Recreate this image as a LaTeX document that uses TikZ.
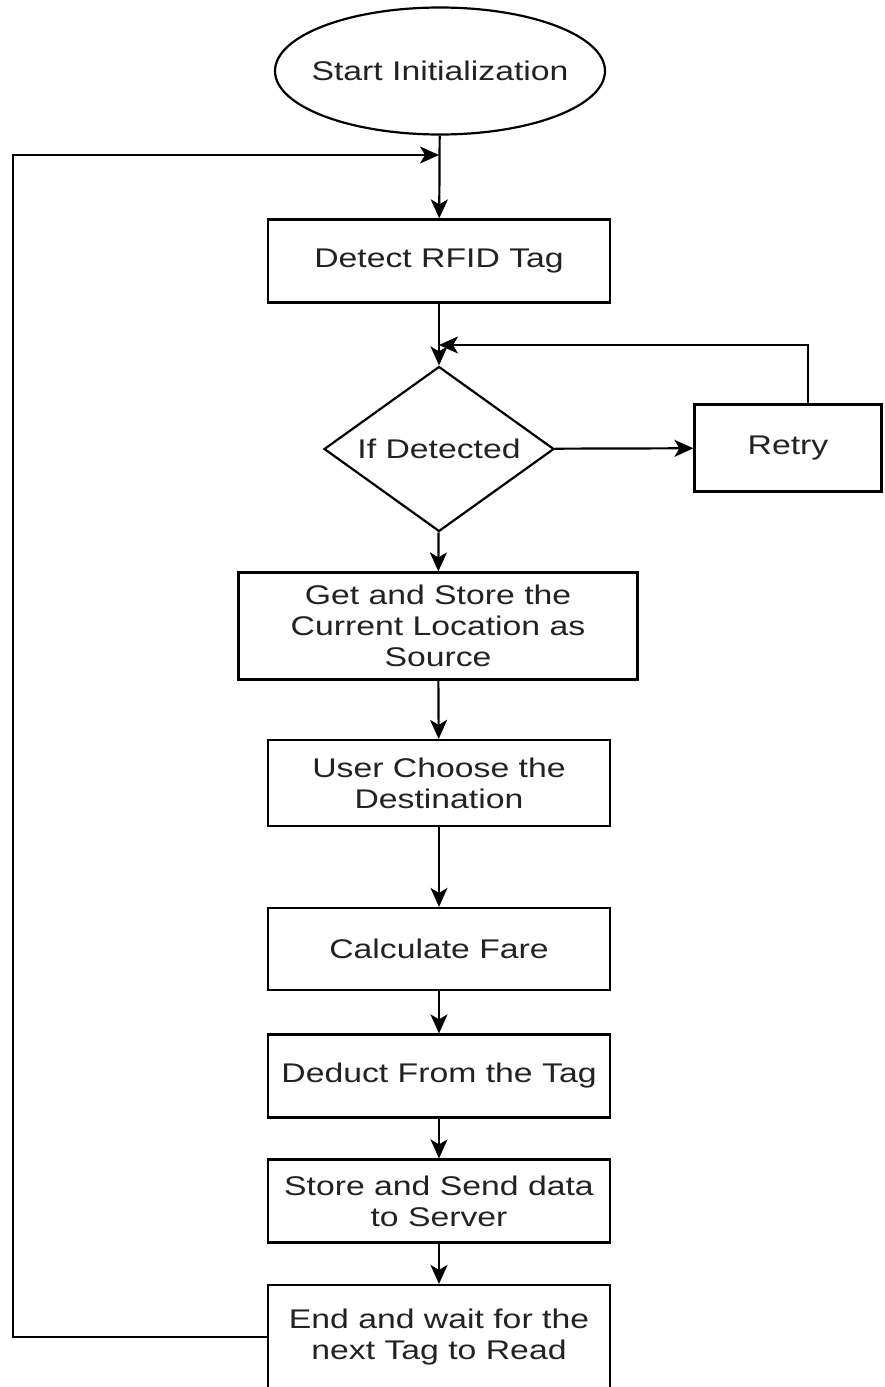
\documentclass[tikz,border=0pt]{standalone}
\usepackage{fontspec}
\setmainfont{Liberation Sans}[FakeStretch=1.25]
\usetikzlibrary{arrows.meta,shapes.geometric}
\definecolor{ink}{HTML}{222222}
\begin{document}
\begin{tikzpicture}[x=1pt,y=-1pt,
  line width=2.2pt,
  font=\fontsize{27}{31}\selectfont,
  every node/.style={text=ink},
  proc/.style={draw, rectangle, inner sep=0pt, align=center,
    minimum width=342pt, minimum height=83pt},
  flow/.style={draw, -{Stealth[length=19pt,width=17pt,inset=5pt]}}]
\useasboundingbox (0,0) rectangle (884,1387);
\clip (0,0) rectangle (884,1387);

% terminal and decision shapes
\node[draw, ellipse, inner sep=0pt, minimum width=330pt, minimum height=127pt,
  label={center:Start Initialization}] (start) at (440,71) {};
\node[proc] (detect) at (439,261) {Detect RFID Tag};
\node[draw, diamond, inner sep=0pt, minimum width=230pt, minimum height=165pt,
  label={center:If Detected}] (dec) at (439,449) {};
\node[proc, minimum width=187pt, minimum height=87pt] (retry) at (788,448) {Retry};

% processing steps
\node[proc, minimum width=399pt, minimum height=107pt] (src) at (438,626)
  {Get and Store the\\Current Location as\\Source};
\node[proc, minimum height=86pt] (dest) at (439,783) {User Choose the\\Destination};
\node[proc, minimum height=82pt] (fare) at (439,949) {Calculate Fare};
\node[proc] (deduct) at (439,1076) {Deduct From the Tag};
\node[proc] (send) at (439,1201) {Store and Send data\\to Server};
\node[proc, minimum height=104pt] (wait) at (439,1337)
  {End and wait for the\\next Tag to Read};

% junction points of the two return loops
\coordinate (top) at (439,155);
\coordinate (lefttop) at (13,155);
\coordinate (leftbot) at (13,1337);
\coordinate (rejoin) at (439,345);
\coordinate (retryup) at (808,345);

% main flow
\draw[flow] (start) -- (detect);
\draw[flow] (detect) -- (dec);
\draw[flow] (dec) -- (retry);
\draw[flow] (dec) -- (src);
\draw[flow] (src) -- (dest);
\draw[flow] (dest) -- (fare);
\draw[flow] (fare) -- (deduct);
\draw[flow] (deduct) -- (send);
\draw[flow] (send) -- (wait);

% return loops
\draw[flow] (retry.north -| retryup) -- (retryup) -- (rejoin);
\draw[flow] (wait.west) -- (leftbot) -- (lefttop) -- (top);
\end{tikzpicture}
\end{document}
